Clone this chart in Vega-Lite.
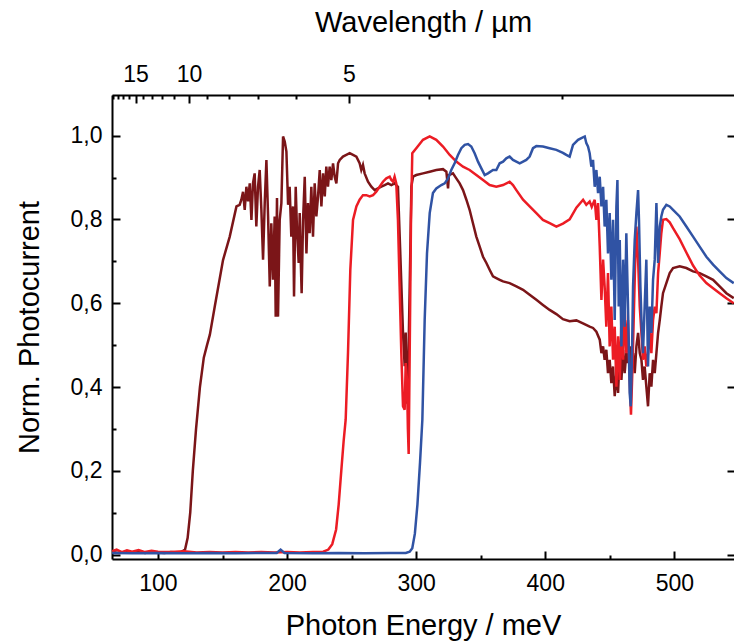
{
"$schema": "https://vega.github.io/schema/vega-lite/v6.json",
"width": 622, "height": 464,
"autosize": {"type": "none"},
"padding": {"left": 112, "top": 95, "right": 0, "bottom": 85},
"background": "white",
"config": {"view": {"stroke": null}, "axis": {"labelFont": "Liberation Sans", "titleFont": "Liberation Sans", "labelFontSize": 23, "titleFontSize": 29, "titleFontWeight": "normal", "labelColor": "black", "titleColor": "black", "domainColor": "black", "tickColor": "black", "domainWidth": 2, "tickWidth": 2, "grid": false}},
"data": {"values": [
{"s":"m","E":64.5,"v":0.006},{"s":"m","E":70,"v":0.004},{"s":"m","E":75,"v":0.007},{"s":"m","E":80,"v":0.005},{"s":"m","E":85,"v":0.006},{"s":"m","E":90,"v":0.004},{"s":"m","E":95,"v":0.006},{"s":"m","E":100,"v":0.005},{"s":"m","E":105,"v":0.004},{"s":"m","E":110,"v":0.006},{"s":"m","E":115,"v":0.005},{"s":"m","E":118,"v":0.006},{"s":"m","E":121,"v":0.012},{"s":"m","E":123,"v":0.04},{"s":"m","E":125,"v":0.1},{"s":"m","E":127,"v":0.2},{"s":"m","E":129.5,"v":0.3},{"s":"m","E":132.5,"v":0.4},{"s":"m","E":135.5,"v":0.47},{"s":"m","E":138,"v":0.5},{"s":"m","E":140.2,"v":0.525},{"s":"m","E":144,"v":0.592},{"s":"m","E":150.4,"v":0.703},{"s":"m","E":155.6,"v":0.759},{"s":"m","E":160.8,"v":0.831},{"s":"m","E":163.3,"v":0.835},
{"s":"m","E":164.6,"v":0.847},{"s":"m","E":165.9,"v":0.866},{"s":"m","E":167.2,"v":0.823},{"s":"m","E":168.5,"v":0.878},{"s":"m","E":169.8,"v":0.843},{"s":"m","E":171.1,"v":0.886},{"s":"m","E":172.4,"v":0.799},{"s":"m","E":173.6,"v":0.886},{"s":"m","E":174.9,"v":0.91},{"s":"m","E":176.2,"v":0.783},{"s":"m","E":177.5,"v":0.878},{"s":"m","E":178.8,"v":0.918},{"s":"m","E":180.1,"v":0.823},{"s":"m","E":181.4,"v":0.704},{"s":"m","E":182.7,"v":0.839},{"s":"m","E":184.0,"v":0.942},{"s":"m","E":185.3,"v":0.807},{"s":"m","E":186.6,"v":0.64},{"s":"m","E":187.8,"v":0.791},{"s":"m","E":189.1,"v":0.656},{"s":"m","E":190.4,"v":0.807},{"s":"m","E":191.2,"v":0.568},{"s":"m","E":192.2,"v":0.851},{"s":"m","E":193.0,"v":0.568},{"s":"m","E":194.3,"v":0.799},{"s":"m","E":195.6,"v":0.839},{"s":"m","E":196.9,"v":0.998},{"s":"m","E":198.2,"v":0.986},{"s":"m","E":199.5,"v":0.962},{"s":"m","E":200.8,"v":0.835},{"s":"m","E":202.0,"v":0.878},{"s":"m","E":203.3,"v":0.759},{"s":"m","E":204.6,"v":0.831},{"s":"m","E":205.4,"v":0.616},{"s":"m","E":206.7,"v":0.878},{"s":"m","E":207.7,"v":0.775},{"s":"m","E":209.0,"v":0.696},{"s":"m","E":209.8,"v":0.815},{"s":"m","E":210.6,"v":0.704},{"s":"m","E":211.3,"v":0.624},{"s":"m","E":212.4,"v":0.799},{"s":"m","E":213.7,"v":0.902},{"s":"m","E":215.0,"v":0.719},{"s":"m","E":216.2,"v":0.839},{"s":"m","E":217.5,"v":0.767},{"s":"m","E":218.8,"v":0.878},{"s":"m","E":220.1,"v":0.759},{"s":"m","E":221.4,"v":0.886},{"s":"m","E":222.7,"v":0.807},{"s":"m","E":224.0,"v":0.855},{"s":"m","E":225.3,"v":0.918},{"s":"m","E":226.6,"v":0.831},{"s":"m","E":227.9,"v":0.91},{"s":"m","E":229.2,"v":0.855},{"s":"m","E":230.4,"v":0.926},{"s":"m","E":231.7,"v":0.878},{"s":"m","E":233.0,"v":0.926},{"s":"m","E":234.3,"v":0.894},{"s":"m","E":235.6,"v":0.934},{"s":"m","E":236.9,"v":0.902},{"s":"m","E":238.2,"v":0.886},{"s":"m","E":239.5,"v":0.934},{"s":"m","E":240.8,"v":0.942},
{"s":"m","E":243.3,"v":0.95},{"s":"m","E":245.9,"v":0.954},{"s":"m","E":248.5,"v":0.958},{"s":"m","E":251.1,"v":0.954},{"s":"m","E":253.7,"v":0.95},{"s":"m","E":256.2,"v":0.934},{"s":"m","E":257.5,"v":0.918},{"s":"m","E":258.8,"v":0.93},{"s":"m","E":260.1,"v":0.91},{"s":"m","E":262.7,"v":0.89},{"s":"m","E":265.3,"v":0.878},{"s":"m","E":267.9,"v":0.87},{"s":"m","E":270.4,"v":0.874},{"s":"m","E":273.0,"v":0.878},{"s":"m","E":275.6,"v":0.882},{"s":"m","E":278.2,"v":0.886},{"s":"m","E":280.8,"v":0.882},{"s":"m","E":283.3,"v":0.886},{"s":"m","E":284.6,"v":0.882},{"s":"m","E":285.9,"v":0.878},{"s":"m","E":287.7,"v":0.72},{"s":"m","E":289.8,"v":0.53},{"s":"m","E":291.1,"v":0.45},{"s":"m","E":291.9,"v":0.53},{"s":"m","E":292.9,"v":0.36},{"s":"m","E":293.9,"v":0.45},{"s":"m","E":295.0,"v":0.64},{"s":"m","E":296.3,"v":0.879},{"s":"m","E":297.6,"v":0.902},
{"s":"m","E":300.1,"v":0.906},{"s":"m","E":305.3,"v":0.91},{"s":"m","E":310.5,"v":0.914},{"s":"m","E":315.6,"v":0.918},{"s":"m","E":320.8,"v":0.92},{"s":"m","E":323.4,"v":0.914},{"s":"m","E":324.7,"v":0.874},{"s":"m","E":325.4,"v":0.906},{"s":"m","E":328.5,"v":0.91},{"s":"m","E":331.1,"v":0.898},{"s":"m","E":333.7,"v":0.886},{"s":"m","E":336.3,"v":0.87},{"s":"m","E":338.9,"v":0.847},{"s":"m","E":341.4,"v":0.823},{"s":"m","E":344.0,"v":0.791},{"s":"m","E":346.6,"v":0.759},{"s":"m","E":349.2,"v":0.735},{"s":"m","E":351.8,"v":0.711},{"s":"m","E":354.4,"v":0.696},{"s":"m","E":356.9,"v":0.68},{"s":"m","E":359.5,"v":0.664},{"s":"m","E":362.1,"v":0.66},{"s":"m","E":364.7,"v":0.656},{"s":"m","E":367.3,"v":0.652},{"s":"m","E":372.4,"v":0.648},{"s":"m","E":377.6,"v":0.64},{"s":"m","E":382.8,"v":0.632},{"s":"m","E":387.9,"v":0.62},{"s":"m","E":393.1,"v":0.608},{"s":"m","E":398.2,"v":0.596},{"s":"m","E":403.4,"v":0.584},{"s":"m","E":408.6,"v":0.574},{"s":"m","E":413.7,"v":0.562},{"s":"m","E":418.9,"v":0.557},{"s":"m","E":424.1,"v":0.559},{"s":"m","E":429.2,"v":0.552},{"s":"m","E":434.4,"v":0.544},{"s":"m","E":437.0,"v":0.541},{"s":"m","E":439.6,"v":0.532},
{"s":"m","E":442.2,"v":0.513},{"s":"m","E":443.5,"v":0.481},{"s":"m","E":444.8,"v":0.497},{"s":"m","E":446.0,"v":0.465},{"s":"m","E":447.3,"v":0.489},{"s":"m","E":448.6,"v":0.433},{"s":"m","E":449.9,"v":0.465},{"s":"m","E":451.2,"v":0.409},{"s":"m","E":452.5,"v":0.449},{"s":"m","E":453.8,"v":0.378},{"s":"m","E":455.1,"v":0.433},{"s":"m","E":456.4,"v":0.386},{"s":"m","E":457.7,"v":0.481},{"s":"m","E":459.0,"v":0.417},{"s":"m","E":460.3,"v":0.489},{"s":"m","E":461.5,"v":0.433},{"s":"m","E":462.8,"v":0.481},{"s":"m","E":464.1,"v":0.457},{"s":"m","E":465.4,"v":0.497},{"s":"m","E":466.7,"v":0.449},{"s":"m","E":468.0,"v":0.481},{"s":"m","E":469.3,"v":0.433},{"s":"m","E":470.6,"v":0.497},{"s":"m","E":471.9,"v":0.529},{"s":"m","E":473.2,"v":0.481},{"s":"m","E":474.5,"v":0.465},{"s":"m","E":475.7,"v":0.417},{"s":"m","E":477.0,"v":0.449},{"s":"m","E":478.3,"v":0.401},{"s":"m","E":479.6,"v":0.354},{"s":"m","E":480.9,"v":0.433},{"s":"m","E":482.2,"v":0.401},{"s":"m","E":483.5,"v":0.465},{"s":"m","E":484.8,"v":0.433},{"s":"m","E":486.1,"v":0.481},{"s":"m","E":487.4,"v":0.529},{"s":"m","E":488.7,"v":0.56},{"s":"m","E":489.9,"v":0.592},{"s":"m","E":491.2,"v":0.624},{"s":"m","E":493.8,"v":0.648},{"s":"m","E":496.4,"v":0.672},{"s":"m","E":499.0,"v":0.684},{"s":"m","E":504.1,"v":0.688},{"s":"m","E":509.3,"v":0.684},{"s":"m","E":514.5,"v":0.676},{"s":"m","E":519.6,"v":0.672},{"s":"m","E":524.8,"v":0.664},{"s":"m","E":530.0,"v":0.656},{"s":"m","E":535.1,"v":0.64},{"s":"m","E":540.3,"v":0.624},{"s":"m","E":546.0,"v":0.612},
{"s":"r","E":64.5,"v":0.008},{"s":"r","E":68,"v":0.012},{"s":"r","E":72,"v":0.006},{"s":"r","E":76,"v":0.01},{"s":"r","E":80,"v":0.007},{"s":"r","E":85,"v":0.011},{"s":"r","E":90,"v":0.006},{"s":"r","E":95,"v":0.009},{"s":"r","E":100,"v":0.007},{"s":"r","E":110,"v":0.006},{"s":"r","E":120,"v":0.008},{"s":"r","E":130,"v":0.005},{"s":"r","E":140,"v":0.006},{"s":"r","E":150,"v":0.005},{"s":"r","E":160,"v":0.006},{"s":"r","E":170,"v":0.005},{"s":"r","E":180,"v":0.006},{"s":"r","E":190,"v":0.005},{"s":"r","E":200,"v":0.006},{"s":"r","E":210,"v":0.005},{"s":"r","E":220,"v":0.006},{"s":"r","E":228,"v":0.007},{"s":"r","E":232,"v":0.012},{"s":"r","E":235,"v":0.025},{"s":"r","E":238,"v":0.06},{"s":"r","E":240,"v":0.12},{"s":"r","E":242,"v":0.2},{"s":"r","E":243.8,"v":0.27},{"s":"r","E":245.4,"v":0.322},{"s":"r","E":247.2,"v":0.481},{"s":"r","E":249.0,"v":0.68},{"s":"r","E":251.1,"v":0.799},{"s":"r","E":253.7,"v":0.831},{"s":"r","E":256.2,"v":0.847},{"s":"r","E":258.8,"v":0.858},{"s":"r","E":261.4,"v":0.858},{"s":"r","E":264.0,"v":0.855},{"s":"r","E":266.6,"v":0.858},{"s":"r","E":269.1,"v":0.866},{"s":"r","E":271.7,"v":0.878},{"s":"r","E":274.3,"v":0.89},{"s":"r","E":276.9,"v":0.898},{"s":"r","E":279.5,"v":0.902},{"s":"r","E":280.8,"v":0.894},{"s":"r","E":282.1,"v":0.89},{"s":"r","E":283.3,"v":0.902},{"s":"r","E":284.6,"v":0.886},{"s":"r","E":285.9,"v":0.799},{"s":"r","E":287.2,"v":0.64},{"s":"r","E":288.5,"v":0.481},{"s":"r","E":289.8,"v":0.354},{"s":"r","E":291.1,"v":0.346},{"s":"r","E":291.9,"v":0.457},{"s":"r","E":292.9,"v":0.417},{"s":"r","E":293.6,"v":0.3},{"s":"r","E":294.2,"v":0.24},{"s":"r","E":295.0,"v":0.481},{"s":"r","E":296.0,"v":0.799},{"s":"r","E":297.0,"v":0.958},{"s":"r","E":300.1,"v":0.97},{"s":"r","E":305.3,"v":0.99},{"s":"r","E":310.5,"v":0.998},{"s":"r","E":315.6,"v":0.99},{"s":"r","E":320.8,"v":0.974},{"s":"r","E":326.0,"v":0.954},{"s":"r","E":331.1,"v":0.938},{"s":"r","E":336.3,"v":0.926},{"s":"r","E":341.4,"v":0.918},{"s":"r","E":346.6,"v":0.906},{"s":"r","E":351.8,"v":0.894},{"s":"r","E":356.9,"v":0.882},{"s":"r","E":362.1,"v":0.878},{"s":"r","E":367.3,"v":0.882},{"s":"r","E":372.4,"v":0.89},{"s":"r","E":375.0,"v":0.882},{"s":"r","E":377.6,"v":0.87},{"s":"r","E":382.8,"v":0.847},{"s":"r","E":387.9,"v":0.831},{"s":"r","E":393.1,"v":0.815},{"s":"r","E":398.2,"v":0.799},{"s":"r","E":403.4,"v":0.791},{"s":"r","E":408.6,"v":0.783},{"s":"r","E":413.7,"v":0.79},{"s":"r","E":418.9,"v":0.8},{"s":"r","E":424.1,"v":0.828},{"s":"r","E":429.3,"v":0.847},{"s":"r","E":431.8,"v":0.835},{"s":"r","E":434.4,"v":0.843},{"s":"r","E":436.0,"v":0.83},{"s":"r","E":438.3,"v":0.847},{"s":"r","E":439.6,"v":0.799},{"s":"r","E":440.9,"v":0.839},{"s":"r","E":442.2,"v":0.735},{"s":"r","E":443.5,"v":0.608},{"s":"r","E":444.8,"v":0.704},{"s":"r","E":446.0,"v":0.64},{"s":"r","E":447.3,"v":0.544},{"s":"r","E":448.6,"v":0.672},{"s":"r","E":449.9,"v":0.497},{"s":"r","E":451.2,"v":0.592},{"s":"r","E":452.5,"v":0.465},{"s":"r","E":453.8,"v":0.544},{"s":"r","E":455.1,"v":0.401},{"s":"r","E":456.4,"v":0.521},{"s":"r","E":457.7,"v":0.417},{"s":"r","E":459.0,"v":0.56},{"s":"r","E":460.3,"v":0.465},{"s":"r","E":461.5,"v":0.592},{"s":"r","E":462.8,"v":0.481},{"s":"r","E":464.1,"v":0.56},{"s":"r","E":465.4,"v":0.417},{"s":"r","E":466.4,"v":0.334},{"s":"r","E":467.5,"v":0.441},{"s":"r","E":468.5,"v":0.56},{"s":"r","E":469.5,"v":0.68},{"s":"r","E":470.6,"v":0.783},{"s":"r","E":471.9,"v":0.704},{"s":"r","E":473.2,"v":0.592},{"s":"r","E":474.5,"v":0.529},{"s":"r","E":475.7,"v":0.465},{"s":"r","E":477.0,"v":0.497},{"s":"r","E":478.3,"v":0.449},{"s":"r","E":479.6,"v":0.481},{"s":"r","E":480.9,"v":0.529},{"s":"r","E":482.2,"v":0.481},{"s":"r","E":483.5,"v":0.56},{"s":"r","E":484.8,"v":0.592},{"s":"r","E":486.1,"v":0.576},{"s":"r","E":487.4,"v":0.672},{"s":"r","E":488.7,"v":0.72},{"s":"r","E":489.9,"v":0.767},{"s":"r","E":491.2,"v":0.799},{"s":"r","E":493.8,"v":0.801},{"s":"r","E":496.4,"v":0.793},{"s":"r","E":499.0,"v":0.779},{"s":"r","E":504.1,"v":0.753},{"s":"r","E":509.3,"v":0.721},{"s":"r","E":514.5,"v":0.69},{"s":"r","E":519.6,"v":0.666},{"s":"r","E":524.8,"v":0.648},{"s":"r","E":530.0,"v":0.636},{"s":"r","E":535.1,"v":0.624},{"s":"r","E":540.3,"v":0.612},{"s":"r","E":546.0,"v":0.6},
{"s":"b","E":64.5,"v":0.004},{"s":"b","E":80,"v":0.003},{"s":"b","E":100,"v":0.004},{"s":"b","E":120,"v":0.003},{"s":"b","E":140,"v":0.004},{"s":"b","E":160,"v":0.003},{"s":"b","E":180,"v":0.004},{"s":"b","E":192,"v":0.004},{"s":"b","E":195,"v":0.012},{"s":"b","E":198,"v":0.004},{"s":"b","E":220,"v":0.003},{"s":"b","E":240,"v":0.004},{"s":"b","E":260,"v":0.003},{"s":"b","E":280,"v":0.004},{"s":"b","E":292,"v":0.004},{"s":"b","E":295,"v":0.007},{"s":"b","E":297,"v":0.015},{"s":"b","E":299,"v":0.05},{"s":"b","E":301,"v":0.12},{"s":"b","E":303,"v":0.22},{"s":"b","E":304.8,"v":0.322},{"s":"b","E":306.6,"v":0.56},{"s":"b","E":308.4,"v":0.719},{"s":"b","E":310.5,"v":0.815},{"s":"b","E":313.0,"v":0.863},{"s":"b","E":315.6,"v":0.874},{"s":"b","E":319.5,"v":0.882},{"s":"b","E":322.1,"v":0.886},{"s":"b","E":324.7,"v":0.898},{"s":"b","E":327.2,"v":0.918},{"s":"b","E":329.8,"v":0.934},{"s":"b","E":332.4,"v":0.954},{"s":"b","E":335.0,"v":0.97},{"s":"b","E":337.6,"v":0.978},{"s":"b","E":340.2,"v":0.98},{"s":"b","E":342.7,"v":0.974},{"s":"b","E":345.3,"v":0.958},{"s":"b","E":347.9,"v":0.938},{"s":"b","E":350.5,"v":0.922},{"s":"b","E":353.1,"v":0.906},{"s":"b","E":355.6,"v":0.91},{"s":"b","E":359.5,"v":0.918},{"s":"b","E":362.1,"v":0.918},{"s":"b","E":364.7,"v":0.934},{"s":"b","E":367.3,"v":0.938},{"s":"b","E":369.8,"v":0.946},{"s":"b","E":372.4,"v":0.95},{"s":"b","E":375.0,"v":0.942},{"s":"b","E":377.6,"v":0.938},{"s":"b","E":380.2,"v":0.934},{"s":"b","E":382.8,"v":0.938},{"s":"b","E":385.3,"v":0.942},{"s":"b","E":387.9,"v":0.95},{"s":"b","E":390.5,"v":0.97},{"s":"b","E":393.1,"v":0.975},{"s":"b","E":398.2,"v":0.974},{"s":"b","E":403.4,"v":0.97},{"s":"b","E":408.6,"v":0.966},{"s":"b","E":413.7,"v":0.959},{"s":"b","E":416.3,"v":0.954},{"s":"b","E":418.9,"v":0.95},{"s":"b","E":421.5,"v":0.978},{"s":"b","E":425.4,"v":0.99},{"s":"b","E":428.0,"v":0.994},{"s":"b","E":430.6,"v":0.998},{"s":"b","E":431.8,"v":0.982},{"s":"b","E":433.1,"v":0.974},{"s":"b","E":434.4,"v":0.958},{"s":"b","E":435.7,"v":0.926},{"s":"b","E":437.0,"v":0.942},{"s":"b","E":438.3,"v":0.878},{"s":"b","E":439.6,"v":0.918},{"s":"b","E":440.9,"v":0.863},{"s":"b","E":442.2,"v":0.902},{"s":"b","E":443.5,"v":0.831},{"s":"b","E":444.8,"v":0.878},{"s":"b","E":446.0,"v":0.783},{"s":"b","E":447.3,"v":0.847},{"s":"b","E":448.6,"v":0.719},{"s":"b","E":449.9,"v":0.815},{"s":"b","E":451.2,"v":0.656},{"s":"b","E":452.5,"v":0.799},{"s":"b","E":453.8,"v":0.56},{"s":"b","E":455.1,"v":0.831},{"s":"b","E":455.9,"v":0.894},{"s":"b","E":456.9,"v":0.592},{"s":"b","E":457.7,"v":0.751},{"s":"b","E":459.0,"v":0.497},{"s":"b","E":460.3,"v":0.704},{"s":"b","E":461.5,"v":0.544},{"s":"b","E":462.8,"v":0.767},{"s":"b","E":464.1,"v":0.592},{"s":"b","E":465.4,"v":0.386},{"s":"b","E":466.2,"v":0.354},{"s":"b","E":467.2,"v":0.481},{"s":"b","E":468.0,"v":0.64},{"s":"b","E":469.3,"v":0.751},{"s":"b","E":470.6,"v":0.815},{"s":"b","E":471.9,"v":0.87},{"s":"b","E":472.6,"v":0.799},{"s":"b","E":473.7,"v":0.64},{"s":"b","E":474.7,"v":0.544},{"s":"b","E":475.7,"v":0.481},{"s":"b","E":477.0,"v":0.592},{"s":"b","E":478.3,"v":0.704},{"s":"b","E":479.6,"v":0.449},{"s":"b","E":480.9,"v":0.592},{"s":"b","E":482.2,"v":0.529},{"s":"b","E":483.5,"v":0.656},{"s":"b","E":484.8,"v":0.704},{"s":"b","E":486.1,"v":0.839},{"s":"b","E":487.4,"v":0.696},{"s":"b","E":488.7,"v":0.783},{"s":"b","E":489.9,"v":0.807},{"s":"b","E":491.2,"v":0.823},{"s":"b","E":493.8,"v":0.835},{"s":"b","E":496.4,"v":0.831},{"s":"b","E":499.0,"v":0.823},{"s":"b","E":504.1,"v":0.807},{"s":"b","E":509.3,"v":0.783},{"s":"b","E":514.5,"v":0.759},{"s":"b","E":519.6,"v":0.735},{"s":"b","E":524.8,"v":0.711},{"s":"b","E":530.0,"v":0.692},{"s":"b","E":535.1,"v":0.676},{"s":"b","E":540.3,"v":0.66},{"s":"b","E":546.0,"v":0.648}
]},
"layer": [
{"transform": [{"filter": "datum.s === 'm'"}], "mark": {"type": "line", "color": "#7b1518", "strokeWidth": 2.5},
 "encoding": {
  "x": {"field": "E", "type": "quantitative", "scale": {"domain": [64.4, 546.2], "nice": false, "zero": false}, "axis": {"orient": "bottom", "values": [100, 200, 300, 400, 500], "ticks": false, "domain": true, "labelPadding": 13, "title": "Photon Energy / meV", "titlePadding": 16}},
  "y": {"field": "v", "type": "quantitative", "scale": {"domain": [-0.0105, 1.097], "nice": false, "zero": false}, "axis": {"orient": "left", "values": [0, 0.2, 0.4, 0.6, 0.8, 1.0], "ticks": false, "domain": true, "labelPadding": 10, "labelExpr": "replace(format(datum.value, '.1f'), '.', ',')", "title": "Norm. Photocurrent", "titlePadding": 26}}}},
{"transform": [{"filter": "datum.s === 'r'"}], "mark": {"type": "line", "color": "#ec1c24", "strokeWidth": 2.5},
 "encoding": {
  "x": {"field": "E", "type": "quantitative", "scale": {"domain": [64.4, 546.2], "nice": false, "zero": false}, "axis": null},
  "y": {"field": "v", "type": "quantitative", "scale": {"domain": [-0.0105, 1.097], "nice": false, "zero": false}, "axis": null}}},
{"transform": [{"filter": "datum.s === 'b'"}], "mark": {"type": "line", "color": "#3053a4", "strokeWidth": 2.5},
 "encoding": {
  "x": {"field": "E", "type": "quantitative", "scale": {"domain": [64.4, 546.2], "nice": false, "zero": false}, "axis": null},
  "y": {"field": "v", "type": "quantitative", "scale": {"domain": [-0.0105, 1.097], "nice": false, "zero": false}, "axis": null}}},
{"mark": {"type": "point", "opacity": 0},
 "encoding": {
  "x": {"field": "E", "type": "quantitative", "scale": {"domain": [64.4, 546.2], "nice": false, "zero": false}, "axis": {"orient": "bottom", "values": [100, 200, 300, 400, 500], "tickSize": -8, "labels": false, "domain": false, "title": null}},
  "y": {"field": "v", "type": "quantitative", "scale": {"domain": [-0.0105, 1.097], "nice": false, "zero": false}, "axis": {"orient": "left", "values": [0, 0.2, 0.4, 0.6, 0.8, 1.0], "tickSize": -8, "labels": false, "domain": false, "title": null}}}},
{"mark": {"type": "point", "opacity": 0},
 "encoding": {
  "x": {"field": "E", "type": "quantitative", "scale": {"domain": [64.4, 546.2], "nice": false, "zero": false}, "axis": {"orient": "bottom", "values": [150, 250, 350, 450], "tickSize": -4, "labels": false, "domain": false, "title": null}},
  "y": {"field": "v", "type": "quantitative", "scale": {"domain": [-0.0105, 1.097], "nice": false, "zero": false}, "axis": {"orient": "left", "values": [0.1, 0.3, 0.5, 0.7, 0.9], "tickSize": -4, "labels": false, "domain": false, "title": null}}}},
{"mark": {"type": "point", "opacity": 0},
 "encoding": {
  "x": {"field": "E", "type": "quantitative", "scale": {"domain": [64.4, 546.2], "nice": false, "zero": false}, "axis": {"orient": "top", "values": [82.656, 123.984, 247.968], "ticks": false, "domain": true, "labelPadding": 9, "labelExpr": "format(1239.84 / datum.value, '.0f')", "title": "Wavelength / µm", "titlePadding": 26}},
  "y": {"field": "v", "type": "quantitative", "scale": {"domain": [-0.0105, 1.097], "nice": false, "zero": false}, "axis": {"orient": "right", "values": [0, 0.2, 0.4, 0.6, 0.8, 1.0], "tickSize": -7, "labels": false, "domain": false, "title": null}}}},
{"mark": {"type": "point", "opacity": 0},
 "encoding": {
  "x": {"field": "E", "type": "quantitative", "scale": {"domain": [64.4, 546.2], "nice": false, "zero": false}, "axis": {"orient": "top", "values": [82.656, 123.984, 247.968], "tickSize": -8, "labels": false, "domain": false, "title": null}},
  "y": {"field": "v", "type": "quantitative", "scale": {"domain": [-0.0105, 1.097], "nice": false, "zero": false}, "axis": null}}},
{"mark": {"type": "point", "opacity": 0},
 "encoding": {
  "x": {"field": "E", "type": "quantitative", "scale": {"domain": [64.4, 546.2], "nice": false, "zero": false}, "axis": {"orient": "top", "values": [65.255, 68.88, 72.932, 77.49, 88.56, 95.372, 103.32, 112.713, 137.76, 154.98, 177.12, 206.64, 309.96, 413.28], "tickSize": -4, "labels": false, "domain": false, "title": null}},
  "y": {"field": "v", "type": "quantitative", "scale": {"domain": [-0.0105, 1.097], "nice": false, "zero": false}, "axis": null}}}
],
"resolve": {"axis": {"x": "independent", "y": "independent"}}
}
